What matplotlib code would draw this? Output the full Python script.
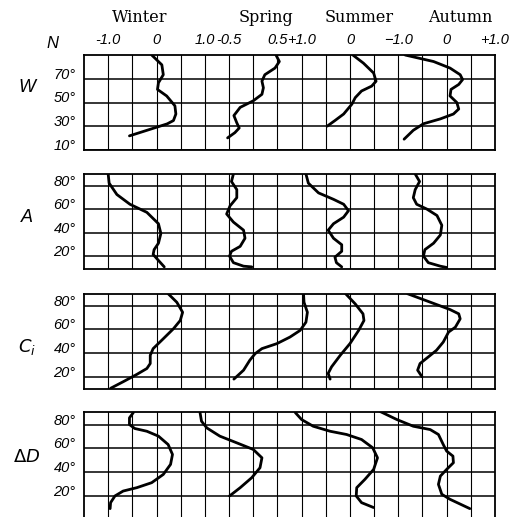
import matplotlib.pyplot as plt
from matplotlib.transforms import ScaledTranslation

plt.rcParams['mathtext.fontset'] = 'dejavusans'
num_font = ['Liberation Sans', 'DejaVu Sans']

seasons = ['Winter', 'Spring', 'Summer', 'Autumn']
row_names = ['W', 'A', '$C_i$', r'$\mathit{\Delta D}$']
lat_ticks = [[10, 30, 50, 70], [20, 40, 60, 80], [20, 40, 60, 80], [20, 40, 60, 80]]

# top scale of every season column (Summer runs the other way)
winter_ticks = [-1.0, 0.0, 1.0]
winter_labels = ['-1.0', '0', '1.0']
spring_ticks = [-0.5, 0.5, 1.0]
spring_labels = ['-0.5', '0.5', '+1.0']
summer_ticks = [0.0, -1.0]
summer_labels = ['0', '\u22121.0']
autumn_ticks = [0.0, 1.0]
autumn_labels = ['0', '+1.0']

# ---- W ----
w_winter_val = [-0.10, 0.11, 0.14, 0.04, 0.02, 0.21, 0.38, 0.40, 0.35, 0.22, -0.56]
w_winter_lat = [90, 81.7, 73.4, 66.6, 61, 55.5, 47.2, 40.3, 34.8, 32, 21.9]
w_spring_val = [0.47, 0.54, 0.45, 0.24, 0.18, 0.21, 0.18, 0.0, -0.27, -0.40, -0.34, -0.29, -0.38, -0.53]
w_spring_lat = [90, 84.5, 79, 73.4, 68, 62.4, 56.9, 51.4, 45.9, 39, 32.9, 28.5, 24.6, 20.2]
w_summer_val = [-0.06, -0.28, -0.49, -0.54, -0.45, -0.24, -0.11, -0.04, 0.13, 0.31, 0.47]
w_summer_lat = [90, 83.1, 74.8, 67.9, 63.8, 59.7, 54.1, 48.6, 40.3, 34.8, 30.1]
w_autumn_val = [-0.86, -0.27, 0.07, 0.28, 0.33, 0.25, 0.09, 0.07, 0.21, 0.25, 0.14, -0.13, -0.48, -0.69, -0.88]
w_autumn_lat = [90, 84.5, 79, 73.4, 69.3, 65.2, 61, 55.5, 50, 44.5, 40.3, 36.2, 32.1, 26.6, 19.1]

# ---- A ----
a_winter_val = [-1.0, -0.98, -0.82, -0.55, -0.20, 0.04, 0.09, 0.04, -0.05, -0.07, 0.02, 0.16]
a_winter_lat = [90, 82.2, 72.5, 64.2, 57.3, 47.6, 39.3, 31, 25.5, 21.4, 17.2, 10.8]
a_spring_val = [-0.41, -0.45, -0.34, -0.34, -0.48, -0.55, -0.41, -0.20, -0.17, -0.27, -0.45, -0.49, -0.41, -0.20, -0.03]
a_spring_lat = [90, 83.6, 76.7, 69.8, 62.8, 55.9, 49, 42.1, 35.2, 28.3, 24.1, 20, 14.4, 11.4, 10.8]
a_summer_val = [0.91, 0.86, 0.65, 0.34, 0.13, 0.03, 0.13, 0.34, 0.45, 0.34, 0.17, 0.17, 0.31, 0.28, 0.17]
a_summer_lat = [90, 82.2, 73.9, 68.4, 64.2, 58.7, 53.2, 47.6, 42.1, 35.2, 29.7, 24.1, 19.1, 14.4, 10.8]
a_autumn_val = [-0.65, -0.56, -0.65, -0.69, -0.62, -0.41, -0.20, -0.10, -0.13, -0.27, -0.45, -0.48, -0.38, -0.13, 0.0]
a_autumn_lat = [90, 83.6, 76.7, 69.8, 64.2, 60.1, 54.6, 46.3, 38, 31, 25.5, 20, 14.4, 11.4, 10.3]

# ---- Ci ----
c_winter_val = [0.24, 0.42, 0.54, 0.49, 0.35, 0.14, -0.07, -0.13, -0.13, -0.20, -0.41, -0.69, -0.95]
c_winter_lat = [90, 82.8, 74.4, 67.5, 60.6, 52.2, 43.9, 38.3, 31.4, 27.2, 22.2, 16.1, 10.6]
c_spring_val = [1.04, 1.05, 1.12, 1.09, 0.97, 0.76, 0.49, 0.18, 0.04, -0.07, -0.20, -0.40]
c_spring_lat = [90, 82.8, 74.4, 66.1, 59.2, 53.6, 48.1, 43.9, 39.7, 34.2, 25.8, 18.3]
c_summer_val = [0.09, -0.11, -0.27, -0.29, -0.18, 0.0, 0.20, 0.38, 0.45, 0.41]
c_summer_lat = [90, 81.4, 73.1, 67.5, 59.2, 48.1, 38.3, 28.6, 23.1, 18.3]
c_autumn_val = [-0.81, 0.07, 0.25, 0.28, 0.18, 0.04, -0.07, -0.21, -0.38, -0.55, -0.60, -0.51]
c_autumn_lat = [90, 76.7, 73.1, 68.9, 61.9, 57.8, 49.4, 42.5, 36.9, 31.4, 25.8, 20.3]

# ---- dD ----
d_winter_val = [-0.48, -0.56, -0.56, -0.45, -0.20, 0.04, 0.24, 0.33, 0.29, 0.14, -0.10, -0.41, -0.69, -0.86, -0.95, -0.96]
d_winter_lat = [90, 85.6, 80, 76.7, 74.4, 70.3, 63.3, 55, 46.7, 38.3, 31.4, 27.2, 24.4, 20.3, 14.7, 9.7]
d_spring_val = [-1.10, -1.07, -0.96, -0.69, -0.34, 0.0, 0.18, 0.14, -0.03, -0.27, -0.49]
d_spring_lat = [90, 82.8, 77.2, 70.3, 64.7, 59.2, 52.2, 43.9, 35.6, 27.2, 20.3]
d_summer_val = [1.13, 1.0, 0.76, 0.41, 0.07, -0.24, -0.47, -0.57, -0.49, -0.31, -0.14, -0.13, -0.24, -0.49]
d_summer_lat = [90, 84.2, 78.6, 74.4, 71.7, 67.5, 60.6, 52.2, 42.5, 34.2, 27.2, 20.3, 14.7, 10.6]
d_autumn_val = [-1.38, -1.03, -0.69, -0.34, -0.17, -0.07, 0.0, 0.13, 0.14, 0.0, -0.13, -0.17, -0.10, 0.07, 0.48]
d_autumn_lat = [91, 84.2, 78.6, 75.8, 71.7, 63.3, 57.8, 53.6, 48.1, 42.5, 36.9, 30, 21.7, 17.5, 9.7]

curves = [
    [(w_winter_val, w_winter_lat), (w_spring_val, w_spring_lat), (w_summer_val, w_summer_lat), (w_autumn_val, w_autumn_lat)],
    [(a_winter_val, a_winter_lat), (a_spring_val, a_spring_lat), (a_summer_val, a_summer_lat), (a_autumn_val, a_autumn_lat)],
    [(c_winter_val, c_winter_lat), (c_spring_val, c_spring_lat), (c_summer_val, c_summer_lat), (c_autumn_val, c_autumn_lat)],
    [(d_winter_val, d_winter_lat), (d_spring_val, d_spring_lat), (d_summer_val, d_summer_lat), (d_autumn_val, d_autumn_lat)],
]

# layout in pixels of the 510x517 picture
W, H = 510, 517
left_px, right_px = 84, 495
panels = [(55, 150, (10, 90)), (174, 269, (9, 90)), (293.7, 389, (10, 90)), (412, 517, (2.7, 90.5))]
name_y = [88, 218, 347, 458]
# each season column: value range over the 17 grid cells
season_xlim = [(-1.5, 7), (-3.5, 5), (5.5, -3), (-7.5, 1)]
season_ticks = [(winter_ticks, winter_labels), (spring_ticks, spring_labels),
                (summer_ticks, summer_labels), (autumn_ticks, autumn_labels)]
title_x = [140, 266, 359, 460]

fig = plt.figure(figsize=(W / 100, H / 100), dpi=100)
up = ScaledTranslation(0, 4 / 72, fig.dpi_scale_trans)

for r in range(4):
    top, bot, ylim = panels[r]
    ax = fig.add_axes([left_px / W, 1 - bot / H, (right_px - left_px) / W, (bot - top) / H])
    ax.set_xlim(0, 17)
    ax.set_ylim(*ylim)
    ax.set_xticks(range(1, 17))
    ax.set_yticks(lat_ticks[r])
    ax.grid(True, axis='x', color='black', lw=0.8)
    ax.grid(True, axis='y', color='black', lw=1.1)
    ax.tick_params(bottom=False, labelbottom=False, left=False, length=0, pad=6)
    ax.set_yticklabels([f'{t}°' for t in lat_ticks[r]], style='italic',
                       fontsize=10.5, family=num_font)
    for lab in ax.get_yticklabels():
        lab.set_transform(lab.get_transform() + up)
    for s in ax.spines.values():
        s.set_linewidth(1.3)
    if r == 3:
        ax.spines['bottom'].set_visible(False)

    for k in range(4):
        t = ax.twiny()
        t.set_xlim(*season_xlim[k])
        for s in t.spines.values():
            s.set_visible(False)
        if r == 0:
            t.set_xticks(season_ticks[k][0])
            t.set_xticklabels(season_ticks[k][1], style='italic', fontsize=10.5, family=num_font)
            t.tick_params(top=False, length=0, pad=6)
        else:
            t.set_xticks([])
        vals, lats = curves[r][k]
        t.plot(vals, lats, color='black', lw=2.0, solid_joinstyle='round', solid_capstyle='round')

    fig.text(27 / W, 1 - name_y[r] / H, row_names[r], ha='center', va='center',
             fontsize=13, style='italic', family=num_font)

for k in range(4):
    fig.text(title_x[k] / W, 1 - 17 / H, seasons[k], ha='center', va='center',
             fontsize=11.5, family='DejaVu Serif')
fig.text(52 / W, 1 - 43 / H, 'N', ha='center', va='center', fontsize=12,
         style='italic', family=num_font)

fig.savefig('out.png', dpi=100)
